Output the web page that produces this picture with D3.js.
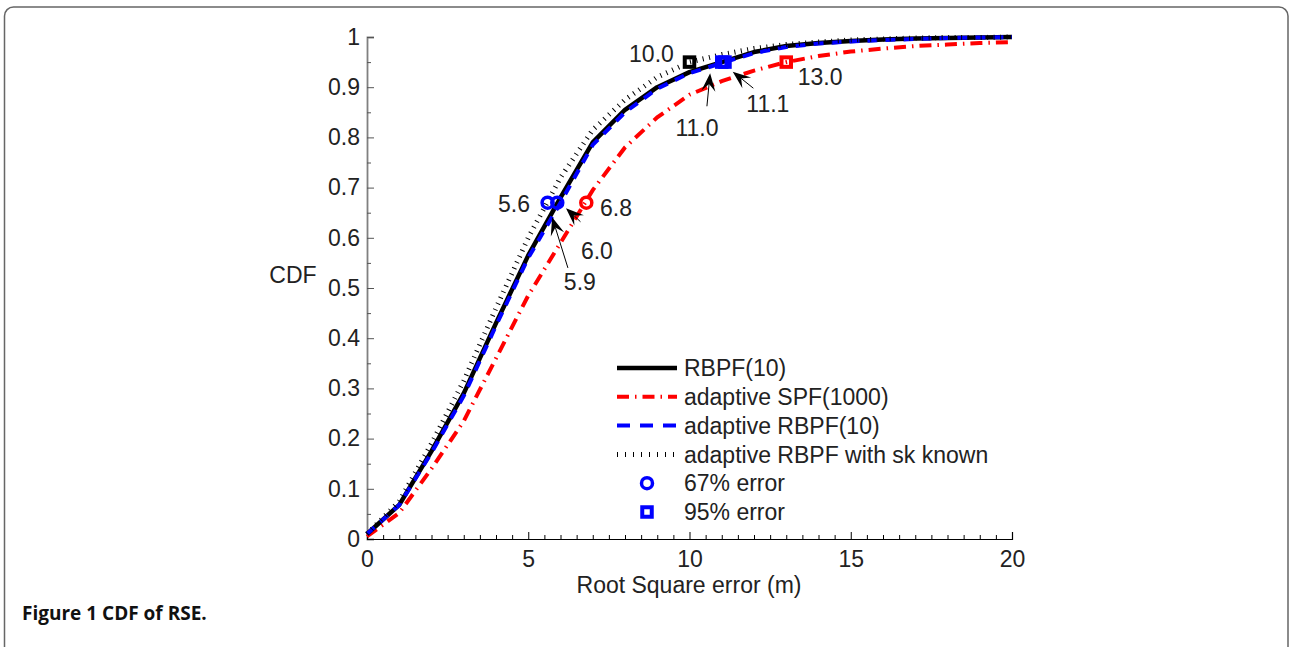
<!DOCTYPE html>
<html>
<head>
<meta charset="utf-8">
<script src="https://cdn.jsdelivr.net/npm/d3@7"></script>
<style>
  html, body { margin: 0; padding: 0; background: #fff; }
  svg { display: block; }
</style>
</head>
<body>
<svg id="chart" width="1289" height="647"></svg>
<script>
// ---------------- data ----------------
const errX = [0,1,2,3,4,5,6,7,8,9,10,11,12,13,14,15,16,17,18,19,20];
const rbpf10      = [0.010,0.068,0.175,0.290,0.430,0.565,0.680,0.790,0.855,0.900,0.930,0.950,0.970,0.982,0.988,0.992,0.995,0.997,0.998,0.999,1.000];
const adaptSPF    = [0.005,0.052,0.140,0.235,0.360,0.485,0.590,0.695,0.780,0.840,0.885,0.912,0.933,0.950,0.962,0.971,0.977,0.982,0.985,0.988,0.990];
const adaptRBPF   = [0.010,0.068,0.172,0.285,0.425,0.560,0.670,0.785,0.850,0.897,0.928,0.948,0.968,0.980,0.987,0.991,0.994,0.996,0.998,0.999,1.000];
const adaptSkKnown= [0.010,0.075,0.190,0.315,0.460,0.600,0.720,0.815,0.875,0.920,0.950,0.965,0.977,0.985,0.990,0.994,0.996,0.998,0.999,0.999,1.000];

const circleMarkers = [ {x:5.6, y:0.67, c:"#0000ff"}, {x:5.9, y:0.67, c:"#0000ff"}, {x:6.8, y:0.67, c:"#ff0000"} ];
const squareMarkers = [ {x:10.0, y:0.95, c:"#000000"}, {x:11.0, y:0.95, c:"#0000ff"}, {x:11.1, y:0.95, c:"#0000ff"}, {x:13.0, y:0.95, c:"#ff0000"} ];

// annotation texts (data coordinates), some with arrows
const annotations = [
  {label:"10.0", tx:8.82,  ty:0.967},
  {label:"13.0", tx:14.05, ty:0.920},
  {label:"5.6",  tx:4.56,  ty:0.668},
  {label:"6.8",  tx:7.72,  ty:0.660},
  {label:"11.0", tx:10.23, ty:0.819, ax0:10.54, ay0:0.862, ax1:10.64, ay1:0.928},
  {label:"11.1", tx:12.43, ty:0.867, ax0:11.98, ay0:0.898, ax1:11.34, ay1:0.931},
  {label:"5.9",  tx:6.60,  ty:0.512, ax0:6.23,  ay0:0.540, ax1:5.74,  ay1:0.641},
  {label:"6.0",  tx:7.13,  ty:0.574, ax0:6.62,  ay0:0.632, ax1:6.17,  ay1:0.659}
];

const xMajor = [0,5,10,15,20];
const yMajor = [0,0.1,0.2,0.3,0.4,0.5,0.6,0.7,0.8,0.9,1];
const xMinor = d3.range(0,20.001,0.5).filter(v => Math.abs(v % 5) > 1e-9);
const yMinor = d3.range(0.05,1,0.1);

const legendItems = [
  {label:"RBPF(10)", type:"line", color:"#000", width:4.5, dash:null},
  {label:"adaptive SPF(1000)", type:"line", color:"#ff0000", width:4, dash:"12,6,1.5,6"},
  {label:"adaptive RBPF(10)", type:"line", color:"#0000ff", width:4, dash:"13,10"},
  {label:"adaptive RBPF with sk known", type:"line", color:"#000", width:5, dash:"1,7"},
  {label:"67% error", type:"circle", color:"#0000ff"},
  {label:"95% error", type:"square", color:"#0000ff"}
];

// ---------------- drawing ----------------
const svg = d3.select("#chart");
const FONT = "'Liberation Sans', Arial, Helvetica, sans-serif";
const textColor = "#222";

// frame
svg.append("rect")
  .attr("x", 4.5).attr("y", 7).attr("width", 1283.5).attr("height", 700)
  .attr("rx", 9).attr("ry", 9)
  .attr("fill", "none").attr("stroke", "#666").attr("stroke-width", 1.5);

const x = d3.scaleLinear().domain([0,20]).range([367,1012]);
const y = d3.scaleLinear().domain([0,1]).range([539,37]);

// axes
const gx = svg.append("g").attr("transform", `translate(0,${y(0)})`);
gx.call(d3.axisBottom(x).tickValues(xMajor).tickSize(-7).tickPadding(12).tickFormat(d3.format("d")));
gx.append("g").call(d3.axisBottom(x).tickValues(xMinor).tickSize(-4).tickFormat(""));
gx.selectAll("path.domain").attr("stroke", "#000").attr("stroke-width", 1.2);
gx.selectAll(".tick line").attr("stroke", "#000");
gx.selectAll("text").attr("font-family", FONT).attr("font-size", 23).attr("fill", textColor);
gx.selectAll("g g path.domain").remove();

const gy = svg.append("g").attr("transform", `translate(${x(0)},0)`);
gy.call(d3.axisLeft(y).tickValues(yMajor).tickSize(-7).tickPadding(7).tickFormat(d => d === 0 ? "0" : d === 1 ? "1" : d3.format(".1f")(d)));
gy.append("g").call(d3.axisLeft(y).tickValues(yMinor).tickSize(-4).tickFormat(""));
gy.selectAll("path.domain").attr("stroke", "#808080").attr("stroke-width", 1.8);
gy.selectAll("g g path.domain").remove();
gy.selectAll(".tick line").attr("stroke", "#555");
gy.selectAll("text").attr("font-family", FONT).attr("font-size", 23).attr("fill", textColor);
gx.raise();

// axis labels
svg.append("text").attr("x", 689).attr("y", 593).attr("text-anchor", "middle")
  .attr("font-family", FONT).attr("font-size", 23).attr("fill", textColor)
  .text("Root Square error (m)");
svg.append("text").attr("x", 293).attr("y", 283).attr("text-anchor", "middle")
  .attr("font-family", FONT).attr("font-size", 23).attr("fill", textColor)
  .text("CDF");

// curves
const line = d3.line().x((d,i) => x(errX[i])).y(d => y(d));
const plot = svg.append("g");
plot.append("path").datum(adaptSPF).attr("d", line)
  .attr("fill","none").attr("stroke","#ff0000").attr("stroke-width",4).attr("stroke-dasharray","12,6,1.5,6");
plot.append("path").datum(rbpf10).attr("d", line)
  .attr("fill","none").attr("stroke","#000").attr("stroke-width",4.5).attr("stroke-linejoin","round");
plot.append("path").datum(adaptRBPF).attr("d", line)
  .attr("fill","none").attr("stroke","#0000ff").attr("stroke-width",4).attr("stroke-dasharray","10,8");
plot.append("path").datum(adaptSkKnown).attr("d", line)
  .attr("fill","none").attr("stroke","#000").attr("stroke-width",5).attr("stroke-dasharray","1,5.5");

// markers
plot.selectAll("circle.m").data(circleMarkers).join("circle")
  .attr("cx", d => x(d.x)).attr("cy", d => y(d.y)).attr("r", 5.5)
  .attr("fill","none").attr("stroke", d => d.c).attr("stroke-width", 3.5);
plot.selectAll("rect.m").data(squareMarkers).join("rect")
  .attr("x", d => x(d.x) - 4.75).attr("y", d => y(d.y) - 4.75).attr("width", 9.5).attr("height", 9.5)
  .attr("fill","none").attr("stroke", d => d.c).attr("stroke-width", 4);

// annotations
const ann = svg.append("g");
annotations.forEach(a => {
  ann.append("text").attr("x", x(a.tx)).attr("y", y(a.ty)).attr("dy","0.36em")
    .attr("text-anchor","middle").attr("font-family", FONT).attr("font-size", 23).attr("fill", textColor)
    .text(a.label);
  if (a.ax0 !== undefined) {
    const x0 = x(a.ax0), y0 = y(a.ay0), x1 = x(a.ax1), y1 = y(a.ay1);
    const ang = Math.atan2(y1 - y0, x1 - x0);
    const L = 18, W = 14, N = 0.6;
    ann.append("line").attr("x1", x0).attr("y1", y0)
      .attr("x2", x1 - Math.cos(ang)*L*N).attr("y2", y1 - Math.sin(ang)*L*N)
      .attr("stroke","#000").attr("stroke-width",1);
    const pts = [[0,0],[-L,-W/2],[-L*N,0],[-L,W/2]].map(([u,v]) =>
      [x1 + u*Math.cos(ang) - v*Math.sin(ang), y1 + u*Math.sin(ang) + v*Math.cos(ang)]);
    ann.append("path").attr("d", "M" + pts.map(p => p.join(",")).join("L") + "Z").attr("fill","#000");
  }
});

// legend
const lg = svg.append("g");
legendItems.forEach((it, i) => {
  const cy = 368 + i*28.8;
  if (it.type === "line") {
    lg.append("line").attr("x1", 617).attr("x2", 677).attr("y1", cy).attr("y2", cy)
      .attr("stroke", it.color).attr("stroke-width", it.width)
      .attr("stroke-dasharray", it.dash);
  } else if (it.type === "circle") {
    lg.append("circle").attr("cx", 647).attr("cy", cy).attr("r", 5.5)
      .attr("fill","none").attr("stroke", it.color).attr("stroke-width", 3.5);
  } else {
    lg.append("rect").attr("x", 647-4.75).attr("y", cy-4.75).attr("width", 9.5).attr("height", 9.5)
      .attr("fill","none").attr("stroke", it.color).attr("stroke-width", 4);
  }
  lg.append("text").attr("x", 684).attr("y", cy).attr("dy","0.36em")
    .attr("font-family", FONT).attr("font-size", 23).attr("fill", textColor)
    .text(it.label);
});

// caption
const cap = svg.append("text").attr("x", 22).attr("y", 620)
  .attr("font-family", "'Open Sans', 'Noto Sans', sans-serif").attr("font-size", 19)
  .attr("font-weight", "bold").attr("fill", "#111");
cap.append("tspan").text("Figure 1");
cap.append("tspan").text(" CDF of RSE.");
</script>
</body>
</html>
